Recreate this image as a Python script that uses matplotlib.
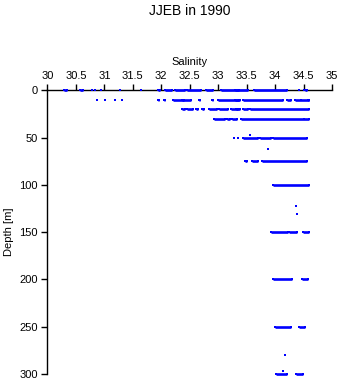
import matplotlib.pyplot as plt
import numpy as np

plt.rcParams['font.family'] = ['Liberation Sans', 'DejaVu Sans']

# runs of samples along each depth level (depth, lowest salinity, highest salinity)
# a run whose ends are equal is a single sample
seg_depth = [0, 0, 0, 0, 0, 0, 0, 0, 0, 0, 0, 0, 0, 0, 0, 0, 0, 0,
             10, 10, 10, 10, 10, 10, 10, 10, 10, 10, 10, 10, 10, 10, 10, 10, 10,
             20, 20, 20, 20, 20, 20, 20, 20, 20, 20,
             30, 30, 30, 30, 30,
             47, 50, 50, 50, 50, 50, 62,
             75, 75, 75,
             100, 122, 131,
             150, 150, 150,
             200, 200,
             250, 250,
             280, 297, 300, 300]
seg_lo = [30.29, 30.57, 30.78, 30.83, 30.95, 31.27, 31.65, 31.94, 32.06, 32.24, 32.46, 32.79, 33.04, 33.29, 33.63, 34.41, 34.5, 34.53,
          30.87, 31.01, 31.18, 31.31, 31.94, 32.05, 32.2, 32.36, 32.67, 32.89, 33.0, 33.29, 33.43, 34.21, 34.34, 34.45, 34.58,
          32.36, 32.46, 32.61, 32.72, 32.84, 33.02, 33.23, 33.32, 33.43, 33.55,
          32.92, 33.15, 33.24, 33.4, 34.5,
          33.56, 33.27, 33.34, 33.43, 33.73, 33.96, 33.87,
          33.47, 33.59, 33.76,
          33.96, 34.36, 34.38,
          33.92, 34.24, 34.49,
          33.96, 34.47,
          33.99, 34.41,
          34.17, 34.14, 34.01, 34.36]
seg_hi = [30.35, 30.62, 30.78, 30.83, 30.95, 31.27, 31.65, 31.98, 32.18, 32.42, 32.69, 32.9, 33.37, 33.53, 34.2, 34.42, 34.5, 34.55,
          30.87, 31.01, 31.18, 31.31, 31.96, 32.07, 32.53, 32.4, 32.68, 32.9, 33.38, 33.37, 34.14, 34.27, 34.6, 34.45, 34.6,
          32.41, 32.55, 32.64, 32.75, 32.97, 33.17, 33.38, 33.35, 33.52, 34.6,
          33.11, 33.2, 33.33, 34.6, 34.5,
          33.56, 33.27, 33.34, 33.69, 33.93, 34.55, 33.87,
          33.5, 33.7, 34.55,
          34.59, 34.36, 34.38,
          34.22, 34.38, 34.6,
          34.3, 34.58,
          34.27, 34.53,
          34.17, 34.14, 34.2, 34.48]

xticks = [30, 30.5, 31, 31.5, 32, 32.5, 33, 33.5, 34, 34.5, 35]
xtick_labels = ['30', '30.5', '31', '31.5', '32', '32.5', '33', '33.5', '34', '34.5', '35']
yticks = [0, 50, 100, 150, 200, 250, 300]

fig = plt.figure(figsize=(3.41, 3.84), dpi=100)
ax = fig.add_axes([0.139, 0.026, 0.835, 0.739])

blue = '#0000ff'
ax.hlines(seg_depth, seg_lo, seg_hi, colors=blue, linewidth=1.9, clip_on=False, zorder=5)
# square ends, so single samples show up as small squares
ax.scatter(seg_lo, seg_depth, marker='s', s=4.0, color=blue, linewidths=0, clip_on=False, zorder=5)
ax.scatter(seg_hi, seg_depth, marker='s', s=4.0, color=blue, linewidths=0, clip_on=False, zorder=5)

ax.set_xlim(30, 35)
ax.set_ylim(300, 0)
ax.spines['right'].set_visible(False)
ax.spines['bottom'].set_visible(False)
ax.spines['top'].set_linewidth(1.0)
ax.spines['left'].set_linewidth(1.0)

ax.xaxis.tick_top()
ax.xaxis.set_label_position('top')
ax.set_xticks(xticks)
ax.set_xticklabels(xtick_labels)
ax.set_yticks(yticks)
ax.tick_params(axis='both', direction='out', length=4, width=1.0, labelsize=8, pad=3)
ax.set_xlabel('Salinity', fontsize=8, labelpad=4)
ax.set_ylabel('Depth [m]', fontsize=8, labelpad=4)

fig.text(0.557, 1 - 11 / 384, 'JJEB in 1990', ha='center', va='center', fontsize=10)

fig.savefig('out.png', dpi=100)
